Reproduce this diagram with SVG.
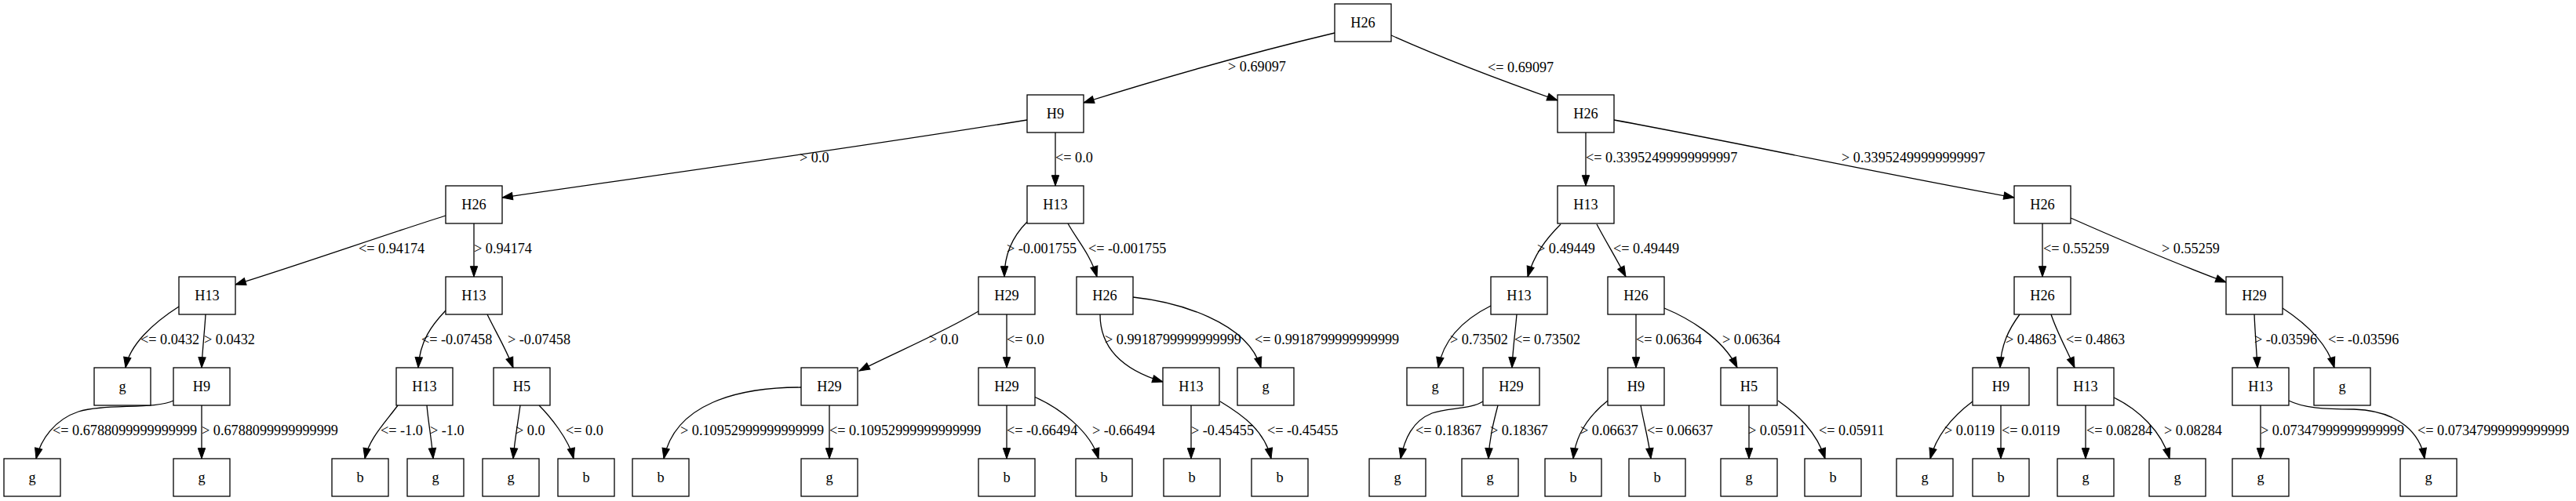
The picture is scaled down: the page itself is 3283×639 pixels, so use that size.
<svg xmlns="http://www.w3.org/2000/svg" width="3283" height="639" viewBox="0 0 3283 639">
<style>
.n rect{fill:#fff;stroke:#000;stroke-width:1.3}
.n text{font-family:"Liberation Serif","Times New Roman",serif;font-size:18.3px;text-anchor:middle;fill:#000}
.e path{fill:none;stroke:#000;stroke-width:1.3;marker-end:url(#ah)}
.e text{font-family:"Liberation Serif","Times New Roman",serif;font-size:18.2px;fill:#000}
</style>
<defs>
<marker id="ah" markerUnits="userSpaceOnUse" markerWidth="14" markerHeight="10" refX="13.3" refY="4.67" orient="auto" overflow="visible">
<path d="M0,0 L13.3,4.67 L0,9.33 z" fill="#000" stroke="#000" stroke-width="1"/>
</marker>
</defs>
<rect width="3283" height="639" fill="#fff"/>
<g id="connectors" class="e">
<path d="M1701,42 C1600,66 1480,100 1381,131"/><text x="1565" y="91">&gt; 0.69097</text>
<path d="M1773,45 C1840,75 1920,105 1985,128"/><text x="1896" y="92">&lt;= 0.69097</text>
<path d="M1309,153 C1080,190 860,220 640,252"/><text x="1019" y="207">&gt; 0.0</text>
<path d="M1345,169 L1345,237"/><text x="1345" y="207">&lt;= 0.0</text>
<path d="M2021,169 L2021,237"/><text x="2021" y="207">&lt;= 0.33952499999999997</text>
<path d="M2057,153 C2230,185 2400,222 2567,252"/><text x="2347" y="207">&gt; 0.33952499999999997</text>
<path d="M568,275 C480,303 390,335 300,363"/><text x="457" y="323">&lt;= 0.94174</text>
<path d="M604,285 L604,353"/><text x="604" y="323">&gt; 0.94174</text>
<path d="M1309,283 C1292,300 1280,322 1280,353"/><text x="1283" y="323">&gt; -0.001755</text>
<path d="M1361,285 C1372,305 1390,325 1398,353"/><text x="1387" y="323">&lt;= -0.001755</text>
<path d="M1989,286 C1970,305 1955,325 1947,353"/><text x="1959" y="323">&gt; 0.49449</text>
<path d="M2035,286 C2045,305 2060,330 2072,353"/><text x="2056" y="323">&lt;= 0.49449</text>
<path d="M2603,285 L2603,353"/><text x="2604" y="323">&lt;= 0.55259</text>
<path d="M2639,278 C2700,305 2770,335 2837,360"/><text x="2755" y="323">&gt; 0.55259</text>
<path d="M228,391 C195,412 165,440 160,469"/><text x="179" y="439">&lt;= 0.0432</text>
<path d="M262,401 C261,420 258,445 257,469"/><text x="260" y="439">&gt; 0.0432</text>
<path d="M568,396 C550,415 535,435 533,469"/><text x="537" y="439">&lt;= -0.07458</text>
<path d="M621,401 C630,420 645,445 654,469"/><text x="647" y="439">&gt; -0.07458</text>
<path d="M1247,397 C1200,425 1140,450 1095,473"/><text x="1184" y="439">&gt; 0.0</text>
<path d="M1283,401 L1283,469"/><text x="1283" y="439">&lt;= 0.0</text>
<path d="M1402,401 C1402,440 1425,470 1482,487"/><text x="1408" y="439">&gt; 0.9918799999999999</text>
<path d="M1444,379 C1500,385 1590,410 1607,469"/><text x="1599" y="439">&lt;= 0.9918799999999999</text>
<path d="M1900,390 C1870,405 1840,430 1833,469"/><text x="1848" y="439">&gt; 0.73502</text>
<path d="M1933,401 C1931,425 1928,445 1927,469"/><text x="1930" y="439">&lt;= 0.73502</text>
<path d="M2085,401 L2085,469"/><text x="2085" y="439">&lt;= 0.06364</text>
<path d="M2121,393 C2150,405 2195,430 2214,469"/><text x="2195" y="439">&gt; 0.06364</text>
<path d="M2574,401 C2560,420 2550,440 2549,469"/><text x="2556" y="439">&gt; 0.4863</text>
<path d="M2614,401 C2622,425 2635,448 2644,469"/><text x="2633" y="439">&lt;= 0.4863</text>
<path d="M2873,401 C2874,425 2876,448 2877,469"/><text x="2873" y="439">&gt; -0.03596</text>
<path d="M2909,393 C2935,410 2965,435 2975,469"/><text x="2967" y="439">&lt;= -0.03596</text>
<path d="M221,511 C200,522 130,515 100,525 C70,535 52,560 46,585"/><text x="67" y="555">&lt;= 0.6788099999999999</text>
<path d="M257,517 L257,585"/><text x="257" y="555">&gt; 0.6788099999999999</text>
<path d="M507,517 C490,540 470,560 465,585"/><text x="485" y="555">&lt;= -1.0</text>
<path d="M544,517 C546,540 550,560 552,585"/><text x="548" y="555">&gt; -1.0</text>
<path d="M663,517 C660,540 656,560 654,585"/><text x="657" y="555">&gt; 0.0</text>
<path d="M687,517 C700,530 725,560 731,585"/><text x="721" y="555">&lt;= 0.0</text>
<path d="M1021,494 C940,494 860,515 846,585"/><text x="867" y="555">&gt; 0.10952999999999999</text>
<path d="M1057,517 L1057,585"/><text x="1057" y="555">&lt;= 0.10952999999999999</text>
<path d="M1283,517 L1283,585"/><text x="1283" y="555">&lt;= -0.66494</text>
<path d="M1318,506 C1350,520 1390,550 1400,585"/><text x="1392" y="555">&gt; -0.66494</text>
<path d="M1518,517 L1518,585"/><text x="1518" y="555">&gt; -0.45455</text>
<path d="M1555,512 C1585,530 1612,550 1620,585"/><text x="1615" y="555">&lt;= -0.45455</text>
<path d="M1890,512 C1875,522 1845,520 1825,527 C1800,537 1790,560 1785,585"/><text x="1804" y="555">&lt;= 0.18367</text>
<path d="M1909,517 C1903,540 1898,560 1897,585"/><text x="1899" y="555">&gt; 0.18367</text>
<path d="M2049,511 C2025,530 2008,555 2005,585"/><text x="2014" y="555">&gt; 0.06637</text>
<path d="M2091,517 C2095,540 2101,560 2104,585"/><text x="2099" y="555">&lt;= 0.06637</text>
<path d="M2229,517 L2229,585"/><text x="2228" y="555">&gt; 0.05911</text>
<path d="M2266,511 C2290,528 2315,550 2326,585"/><text x="2318" y="555">&lt;= 0.05911</text>
<path d="M2514,512 C2490,530 2468,555 2460,585"/><text x="2478" y="555">&gt; 0.0119</text>
<path d="M2550,517 L2550,585"/><text x="2551" y="555">&lt;= 0.0119</text>
<path d="M2658,517 L2658,585"/><text x="2659" y="555">&lt;= 0.08284</text>
<path d="M2694,507 C2725,522 2755,550 2765,585"/><text x="2758" y="555">&gt; 0.08284</text>
<path d="M2881,517 L2881,585"/><text x="2881" y="555">&gt; 0.07347999999999999</text>
<path d="M2917,511 C2935,520 2960,522 3000,522 C3060,524 3085,555 3090,585"/><text x="3081" y="555">&lt;= 0.07347999999999999</text>
</g>
<g id="n0" class="n"><rect x="1701" y="5" width="72" height="48"/><text x="1737" y="35">H26</text></g>
<g id="n1" class="n"><rect x="1309" y="121" width="72" height="48"/><text x="1345" y="151">H9</text></g>
<g id="n2" class="n"><rect x="1985" y="121" width="72" height="48"/><text x="2021" y="151">H26</text></g>
<g id="n3" class="n"><rect x="568" y="237" width="72" height="48"/><text x="604" y="267">H26</text></g>
<g id="n4" class="n"><rect x="1309" y="237" width="72" height="48"/><text x="1345" y="267">H13</text></g>
<g id="n5" class="n"><rect x="1985" y="237" width="72" height="48"/><text x="2021" y="267">H13</text></g>
<g id="n6" class="n"><rect x="2567" y="237" width="72" height="48"/><text x="2603" y="267">H26</text></g>
<g id="n7" class="n"><rect x="228" y="353" width="72" height="48"/><text x="264" y="383">H13</text></g>
<g id="n8" class="n"><rect x="568" y="353" width="72" height="48"/><text x="604" y="383">H13</text></g>
<g id="n9" class="n"><rect x="1247" y="353" width="72" height="48"/><text x="1283" y="383">H29</text></g>
<g id="n10" class="n"><rect x="1372" y="353" width="72" height="48"/><text x="1408" y="383">H26</text></g>
<g id="n11" class="n"><rect x="1900" y="353" width="72" height="48"/><text x="1936" y="383">H13</text></g>
<g id="n12" class="n"><rect x="2049" y="353" width="72" height="48"/><text x="2085" y="383">H26</text></g>
<g id="n13" class="n"><rect x="2567" y="353" width="72" height="48"/><text x="2603" y="383">H26</text></g>
<g id="n14" class="n"><rect x="2837" y="353" width="72" height="48"/><text x="2873" y="383">H29</text></g>
<g id="n15" class="n"><rect x="120" y="469" width="72" height="48"/><text x="156" y="499">g</text></g>
<g id="n16" class="n"><rect x="221" y="469" width="72" height="48"/><text x="257" y="499">H9</text></g>
<g id="n17" class="n"><rect x="505" y="469" width="72" height="48"/><text x="541" y="499">H13</text></g>
<g id="n18" class="n"><rect x="629" y="469" width="72" height="48"/><text x="665" y="499">H5</text></g>
<g id="n19" class="n"><rect x="1021" y="469" width="72" height="48"/><text x="1057" y="499">H29</text></g>
<g id="n20" class="n"><rect x="1247" y="469" width="72" height="48"/><text x="1283" y="499">H29</text></g>
<g id="n21" class="n"><rect x="1482" y="469" width="72" height="48"/><text x="1518" y="499">H13</text></g>
<g id="n22" class="n"><rect x="1577" y="469" width="72" height="48"/><text x="1613" y="499">g</text></g>
<g id="n23" class="n"><rect x="1793" y="469" width="72" height="48"/><text x="1829" y="499">g</text></g>
<g id="n24" class="n"><rect x="1890" y="469" width="72" height="48"/><text x="1926" y="499">H29</text></g>
<g id="n25" class="n"><rect x="2049" y="469" width="72" height="48"/><text x="2085" y="499">H9</text></g>
<g id="n26" class="n"><rect x="2193" y="469" width="72" height="48"/><text x="2229" y="499">H5</text></g>
<g id="n27" class="n"><rect x="2514" y="469" width="72" height="48"/><text x="2550" y="499">H9</text></g>
<g id="n28" class="n"><rect x="2622" y="469" width="72" height="48"/><text x="2658" y="499">H13</text></g>
<g id="n29" class="n"><rect x="2845" y="469" width="72" height="48"/><text x="2881" y="499">H13</text></g>
<g id="n30" class="n"><rect x="2949" y="469" width="72" height="48"/><text x="2985" y="499">g</text></g>
<g id="n31" class="n"><rect x="5" y="585" width="72" height="48"/><text x="41" y="615">g</text></g>
<g id="n32" class="n"><rect x="221" y="585" width="72" height="48"/><text x="257" y="615">g</text></g>
<g id="n33" class="n"><rect x="423" y="585" width="72" height="48"/><text x="459" y="615">b</text></g>
<g id="n34" class="n"><rect x="519" y="585" width="72" height="48"/><text x="555" y="615">g</text></g>
<g id="n35" class="n"><rect x="615" y="585" width="72" height="48"/><text x="651" y="615">g</text></g>
<g id="n36" class="n"><rect x="711" y="585" width="72" height="48"/><text x="747" y="615">b</text></g>
<g id="n37" class="n"><rect x="806" y="585" width="72" height="48"/><text x="842" y="615">b</text></g>
<g id="n38" class="n"><rect x="1021" y="585" width="72" height="48"/><text x="1057" y="615">g</text></g>
<g id="n39" class="n"><rect x="1247" y="585" width="72" height="48"/><text x="1283" y="615">b</text></g>
<g id="n40" class="n"><rect x="1371" y="585" width="72" height="48"/><text x="1407" y="615">b</text></g>
<g id="n41" class="n"><rect x="1483" y="585" width="72" height="48"/><text x="1519" y="615">b</text></g>
<g id="n42" class="n"><rect x="1595" y="585" width="72" height="48"/><text x="1631" y="615">b</text></g>
<g id="n43" class="n"><rect x="1745" y="585" width="72" height="48"/><text x="1781" y="615">g</text></g>
<g id="n44" class="n"><rect x="1863" y="585" width="72" height="48"/><text x="1899" y="615">g</text></g>
<g id="n45" class="n"><rect x="1969" y="585" width="72" height="48"/><text x="2005" y="615">b</text></g>
<g id="n46" class="n"><rect x="2076" y="585" width="72" height="48"/><text x="2112" y="615">b</text></g>
<g id="n47" class="n"><rect x="2193" y="585" width="72" height="48"/><text x="2229" y="615">g</text></g>
<g id="n48" class="n"><rect x="2300" y="585" width="72" height="48"/><text x="2336" y="615">b</text></g>
<g id="n49" class="n"><rect x="2417" y="585" width="72" height="48"/><text x="2453" y="615">g</text></g>
<g id="n50" class="n"><rect x="2514" y="585" width="72" height="48"/><text x="2550" y="615">b</text></g>
<g id="n51" class="n"><rect x="2622" y="585" width="72" height="48"/><text x="2658" y="615">g</text></g>
<g id="n52" class="n"><rect x="2739" y="585" width="72" height="48"/><text x="2775" y="615">g</text></g>
<g id="n53" class="n"><rect x="2845" y="585" width="72" height="48"/><text x="2881" y="615">g</text></g>
<g id="n54" class="n"><rect x="3059" y="585" width="72" height="48"/><text x="3095" y="615">g</text></g>
</svg>
